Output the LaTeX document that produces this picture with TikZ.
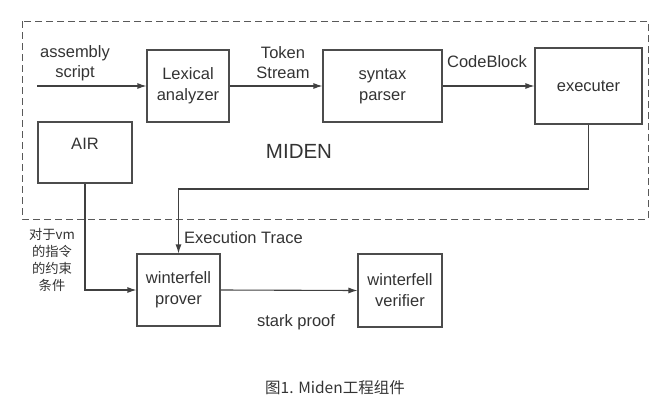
\documentclass[tikz,border=0pt]{standalone}
\usepackage{fontspec}
\setmainfont{Liberation Sans}
\newfontfamily\cjk{Noto Sans CJK SC}
\usepackage{tikz}
\usetikzlibrary{arrows.meta}

\begin{document}
\begin{tikzpicture}[x=1pt, y=-1pt,
		box/.style={draw=black!70, line width=1.1pt, align=center, inner sep=0pt, text=black!80,
			font=\fontsize{16.5}{21}\selectfont},
		arr/.style={draw=black!75, line width=1.1pt, -{Latex[length=9pt,width=6pt]}},
		lbl/.style={align=center, inner sep=0pt, text=black!80, font=\fontsize{16.5}{20}\selectfont}]
		%%%%% START %%%%%
		
		\useasboundingbox (0, 0) rectangle (670, 410);
		
		\draw[line width=1pt, color=black!65, dash pattern=on 7pt off 4pt] (22, 21) rectangle (648, 219);
		
		\node[box, minimum width=82pt, minimum height=72pt] (lex) at (188, 86) {Lexical\\analyzer};
		\node[box, minimum width=119pt, minimum height=72pt] (syn) at (382.5, 86) {syntax\\parser};
		\node[box, minimum width=107pt, minimum height=76pt] (exe) at (588.5, 86) {executer};
		\node[box, minimum width=94pt, minimum height=61pt,
			label={[lbl, anchor=center, yshift=-22pt]north:AIR}] (air) at (85, 152.5) {};
		\node[box, minimum width=83pt, minimum height=72pt] (prv) at (178.5, 290) {winterfell\\prover};
		\node[box, minimum width=84pt, minimum height=73pt] (ver) at (400, 290.5) {winterfell\\verifier};
		
		\coordinate (src) at (37, 86);
		\coordinate (bend) at (178.5, 189);
		
		\draw[arr] (src) -- (lex.west);
		\draw[arr] (lex.east) -- (syn.west);
		\draw[arr] (syn.east) -- (exe.west);
		\draw[arr] (exe.south) |- (bend) -- (prv.north);
		\draw[arr] (air.south) |- (prv.west);
		\draw[arr] (prv.east) -- (ver.west);
		
		\node[lbl] (asm) at (75, 63) {assembly\\script};
		\node[lbl] (tok) at (283, 63) {Token\\Stream};
		\node[lbl] (cb) at (487, 62) {CodeBlock};
		\node[lbl, font=\fontsize{20.5}{24}\selectfont] (miden) at (299, 151) {MIDEN};
		\node[lbl, anchor=west] (trace) at (184, 238) {Execution Trace};
		\node[lbl] (proof) at (296, 322) {stark proof};
		\node[lbl, font=\cjk\fontsize{13.3}{17}\selectfont] (cons) at (52, 260) {对于vm\\的指令\\的约束\\条件};
		
		\node[lbl, font=\cjk\fontsize{15.5}{18}\selectfont] (cap) at (335, 388) {图1. Miden工程组件};
		
		%%%%% END %%%%%
	\end{tikzpicture}
\end{document}
